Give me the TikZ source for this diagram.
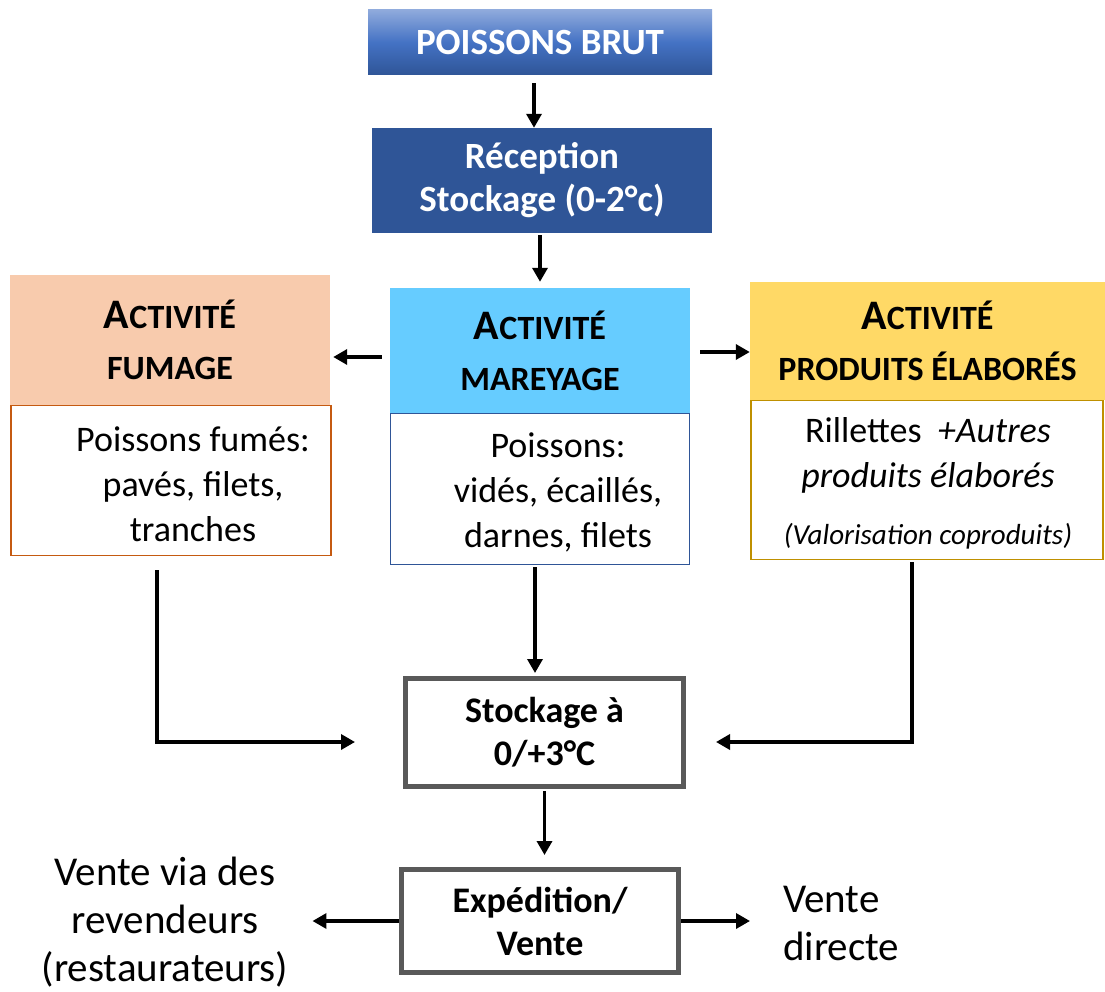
\documentclass[tikz,border=0pt]{standalone}
\usepackage{fontspec}
\setmainfont{Carlito}
\usetikzlibrary{arrows.meta,positioning}

\definecolor{brutTop}{HTML}{8FAADC}
\definecolor{brutMid}{HTML}{4472C4}
\definecolor{brutBot}{HTML}{2F5597}
\definecolor{recepFill}{HTML}{2F5597}
\definecolor{fumHeadFill}{HTML}{F8CBAD}
\definecolor{fumLine}{HTML}{C55A11}
\definecolor{mareyHeadFill}{HTML}{66CCFF}
\definecolor{mareyLine}{HTML}{2F5597}
\definecolor{elabHeadFill}{HTML}{FFD966}
\definecolor{elabLine}{HTML}{BF9000}
\definecolor{stockLine}{HTML}{595959}

\newcommand{\acti}{{\fontsize{42}{51}\selectfont A}CTIVITÉ}

\begin{document}
\begin{tikzpicture}[x=1pt, y=-1pt,
    flow/.style={line width=3.4pt, -{Triangle[length=14pt,width=15pt]}},
    bluebox/.style={text=white, font=\fontsize{37}{43}\selectfont\bfseries, align=center, inner sep=0pt},
    headbox/.style={font=\fontsize{34}{51}\selectfont\bfseries, align=center, inner sep=0pt},
    bodybox/.style={draw, line width=1.5pt, fill=white, inner sep=0pt},
    bodytext/.style={font=\fontsize{36}{45}\selectfont, align=center, inner sep=0pt},
    stockbox/.style={draw=stockLine, line width=5pt, font=\fontsize{36}{43}\selectfont\bfseries, align=center, inner sep=0pt},
    sidetext/.style={font=\fontsize{41}{48}\selectfont, inner sep=0pt}]

    \useasboundingbox (0, 0) rectangle (1105, 992);

    \node[bluebox, minimum width=344, minimum height=65, top color=brutTop, bottom color=brutBot, middle color=brutMid] (brut) at (540, 42.5) {POISSONS BRUT};
    \node[bluebox, fill=recepFill, minimum width=340, minimum height=105] (recep) at (542, 180.5) {Réception\\Stockage (0-2°c)};

    \node[headbox, fill=fumHeadFill, minimum width=320, minimum height=130] (fumHead) at (170, 340) {\acti\\FUMAGE};
    \node[headbox, fill=mareyHeadFill, minimum width=300, minimum height=125] (mareyHead) at (540, 350.5) {\acti\\MAREYAGE};
    \node[headbox, fill=elabHeadFill, minimum width=355, minimum height=118] (elabHead) at (927.5, 341) {\acti\\PRODUITS ÉLABORÉS};

    \node[bodybox, draw=fumLine, minimum width=320, minimum height=150] (fumBody) at (171, 480.5) {};
    \node[bodytext] (fumText) at (193, 484) {Poissons fumés:\\pavés, filets,\\tranches};
    \node[bodybox, draw=mareyLine, minimum width=299, minimum height=151] (mareyBody) at (540, 489) {};
    \node[bodytext] (mareyText) at (558, 492) {Poissons:\\vidés, écaillés,\\darnes, filets};
    \node[bodybox, draw=elabLine, minimum width=352, minimum height=159] (elabBody) at (927, 480) {};
    \node[bodytext] (elabText) at (928, 483) {Rillettes~~\textit{+Autres}\\\textit{produits élaborés}\\[12pt]{\fontsize{29}{32}\selectfont\itshape (Valorisation coproduits)}};

    \node[stockbox, minimum width=278, minimum height=108] (stock) at (544.5, 732.5) {Stockage à\\0/+3°C};
    \node[stockbox, minimum width=277, minimum height=103] (exped) at (540, 921) {Expédition/\\Vente};

    \node[sidetext, align=center] (revend) at (165, 922) {Vente via des\\revendeurs\\(restaurateurs)};
    \node[sidetext, align=left, anchor=west] (direct) at (783, 923) {Vente\\directe};

    \draw[flow, shorten <=8pt] ([xshift=-6]brut.south) -- ([xshift=-8]recep.north);
    \draw[flow, shorten <=2pt, shorten >=6pt] ([xshift=-2]recep.south) -- (mareyHead.north);
    \draw[flow, shorten <=8pt, shorten >=3pt] ([yshift=-6.5]mareyHead.west) -- ([yshift=-17]fumHead.east);
    \draw[flow, shorten <=10pt] ([yshift=-1.5]mareyHead.east) -- ([yshift=-11]elabHead.west);

    \draw[flow, shorten <=2pt, shorten >=3pt] ([xshift=-5]mareyBody.south) -- ([xshift=-9.5]stock.north);
    \draw[flow, shorten <=14pt] ([xshift=-14]fumBody.south) |- ([xshift=-48, yshift=-9.5]stock.west);
    \draw[flow, shorten <=2pt] ([xshift=-15]elabBody.south) |- ([xshift=30, yshift=-9.5]stock.east);

    \draw[flow, shorten <=2pt, shorten >=12pt] (stock.south) -- (stock.south |- exped.north);
    \draw[flow, shorten >=24pt] (exped.west) -- (revend.east |- exped.west);
    \draw[flow, shorten >=33pt] (exped.east) -- (direct.west |- exped.east);

\end{tikzpicture}
\end{document}
